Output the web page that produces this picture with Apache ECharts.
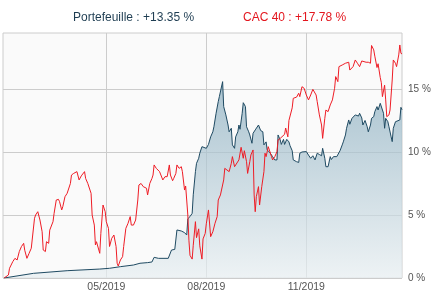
<!DOCTYPE html>
<html>
<head>
<meta charset="utf-8">
<script src="https://cdn.jsdelivr.net/npm/echarts@6/dist/echarts.min.js"></script>
<style>html,body{margin:0;padding:0;background:#fff;}#c{width:436px;height:298px;}</style>
</head>
<body>
<div id="c"></div>
<script>
var xTickDates = ['2019-05-01','2019-08-01','2019-11-01'];
var yTicks = [0, 5, 10, 15];
var seriesNames = ['Portefeuille', 'CAC 40'];
var seriesPerf = ['+13.35 %', '+17.78 %'];

var ptfDates = ['2019-01-27','2019-02-23','2019-03-26','2019-04-25','2019-05-04','2019-05-14','2019-05-26','2019-06-01','2019-06-08','2019-06-12','2019-06-14','2019-06-18','2019-06-27','2019-06-30','2019-07-03','2019-07-05','2019-07-09','2019-07-12','2019-07-14','2019-07-15','2019-07-17','2019-07-19','2019-07-20','2019-07-22','2019-07-23','2019-07-25','2019-07-26','2019-07-28','2019-07-29','2019-08-01','2019-08-03','2019-08-05','2019-08-07','2019-08-08','2019-08-10','2019-08-12','2019-08-13','2019-08-14','2019-08-16','2019-08-17','2019-08-19','2019-08-21','2019-08-22','2019-08-24','2019-08-25','2019-08-27','2019-08-28','2019-08-30','2019-08-31','2019-09-01','2019-09-03','2019-09-04','2019-09-06','2019-09-07','2019-09-09','2019-09-10','2019-09-12','2019-09-13','2019-09-15','2019-09-16','2019-09-18','2019-09-20','2019-09-22','2019-09-23','2019-09-25','2019-09-26','2019-09-28','2019-10-01','2019-10-03','2019-10-05','2019-10-06','2019-10-08','2019-10-09','2019-10-11','2019-10-12','2019-10-14','2019-10-16','2019-10-17','2019-10-19','2019-10-20','2019-10-23','2019-10-25','2019-10-26','2019-10-28','2019-10-29','2019-11-01','2019-11-03','2019-11-05','2019-11-07','2019-11-09','2019-11-11','2019-11-13','2019-11-15','2019-11-16','2019-11-18','2019-11-19','2019-11-21','2019-11-23','2019-11-24','2019-11-26','2019-11-27','2019-11-29','2019-11-30','2019-12-02','2019-12-04','2019-12-05','2019-12-07','2019-12-08','2019-12-10','2019-12-11','2019-12-13','2019-12-14','2019-12-16','2019-12-17','2019-12-19','2019-12-20','2019-12-22','2019-12-23','2019-12-25','2019-12-27','2019-12-28','2019-12-30','2019-12-31','2020-01-02','2020-01-03','2020-01-05','2020-01-06','2020-01-08','2020-01-09','2020-01-11','2020-01-12','2020-01-13','2020-01-15','2020-01-16','2020-01-18','2020-01-19','2020-01-20','2020-01-22','2020-01-23','2020-01-26','2020-01-27','2020-01-28'];
var ptfValues = [0,0.37,0.58,0.71,0.77,0.9,1.03,1.17,1.22,1.27,1.64,1.56,1.56,2.22,2.27,3.81,3.73,3.6,3.41,4.7,4.87,5.13,6.6,8.44,9.1,9.5,9.9,10.42,10.5,10.29,10.6,11.2,11.6,12.0,13.07,14.0,14.39,14.5,15.58,13.6,12.94,12.14,11.6,11.88,10.56,10.29,11.2,11.6,12.14,11.8,13.07,13.91,13.6,12.0,11.6,11.35,10.69,11.48,11.75,11.6,12.14,11.7,11.6,10.56,10.8,10.16,10.0,9.63,9.37,9.37,11.35,10.95,10.6,11.0,10.6,11.0,10.8,10.5,10.1,9.37,9.23,9.17,9.9,10.0,9.9,10.03,9.75,9.5,9.7,9.37,9.9,9.8,9.7,10.29,9.5,8.83,8.83,9.63,9.4,9.63,9.68,9.63,9.68,10.1,10.56,10.8,11.35,11.88,12.54,12.2,12.67,12.6,12.94,13.0,12.85,13.07,12.7,12.14,12.5,12.0,11.6,12.14,12.67,12.8,13.2,13.6,13.33,13.86,14.0,13.07,11.88,12.67,12.4,12.0,11.2,10.82,11.88,12.4,12.5,12.54,13.54,13.35];

var cacDates = ['2019-01-27','2019-01-31','2019-02-01','2019-02-04','2019-02-06','2019-02-08','2019-02-10','2019-02-12','2019-02-14','2019-02-15','2019-02-17','2019-02-19','2019-02-21','2019-02-24','2019-02-25','2019-02-27','2019-03-01','2019-03-03','2019-03-04','2019-03-06','2019-03-07','2019-03-09','2019-03-10','2019-03-13','2019-03-14','2019-03-16','2019-03-18','2019-03-19','2019-03-21','2019-03-22','2019-03-24','2019-03-26','2019-03-27','2019-03-29','2019-03-30','2019-04-01','2019-04-04','2019-04-06','2019-04-08','2019-04-11','2019-04-12','2019-04-14','2019-04-17','2019-04-18','2019-04-20','2019-04-21','2019-04-22','2019-04-25','2019-04-26','2019-04-28','2019-04-30','2019-05-01','2019-05-03','2019-05-04','2019-05-06','2019-05-08','2019-05-10','2019-05-11','2019-05-12','2019-05-14','2019-05-16','2019-05-17','2019-05-19','2019-05-21','2019-05-23','2019-05-24','2019-05-26','2019-05-28','2019-05-30','2019-05-31','2019-06-02','2019-06-04','2019-06-07','2019-06-08','2019-06-10','2019-06-12','2019-06-13','2019-06-14','2019-06-16','2019-06-19','2019-06-20','2019-06-22','2019-06-24','2019-06-26','2019-06-28','2019-06-29','2019-07-01','2019-07-02','2019-07-04','2019-07-05','2019-07-07','2019-07-09','2019-07-10','2019-07-12','2019-07-13','2019-07-15','2019-07-16','2019-07-17','2019-07-19','2019-07-20','2019-07-22','2019-07-23','2019-07-25','2019-07-26','2019-07-28','2019-07-29','2019-07-31','2019-08-01','2019-08-03','2019-08-05','2019-08-07','2019-08-09','2019-08-11','2019-08-12','2019-08-14','2019-08-15','2019-08-17','2019-08-18','2019-08-20','2019-08-22','2019-08-24','2019-08-25','2019-08-27','2019-08-28','2019-08-31','2019-09-02','2019-09-04','2019-09-05','2019-09-07','2019-09-08','2019-09-10','2019-09-11','2019-09-13','2019-09-14','2019-09-15','2019-09-16','2019-09-18','2019-09-19','2019-09-21','2019-09-23','2019-09-24','2019-09-25','2019-09-27','2019-09-28','2019-09-30','2019-10-01','2019-10-03','2019-10-05','2019-10-06','2019-10-08','2019-10-09','2019-10-12','2019-10-13','2019-10-15','2019-10-16','2019-10-19','2019-10-20','2019-10-23','2019-10-25','2019-10-26','2019-10-28','2019-10-30','2019-11-01','2019-11-03','2019-11-05','2019-11-07','2019-11-10','2019-11-11','2019-11-13','2019-11-15','2019-11-16','2019-11-18','2019-11-19','2019-11-21','2019-11-23','2019-11-25','2019-11-27','2019-11-28','2019-11-30','2019-12-01','2019-12-04','2019-12-07','2019-12-10','2019-12-11','2019-12-14','2019-12-16','2019-12-18','2019-12-20','2019-12-22','2019-12-23','2019-12-26','2019-12-28','2019-12-30','2019-12-31','2020-01-02','2020-01-03','2020-01-05','2020-01-06','2020-01-08','2020-01-09','2020-01-10','2020-01-12','2020-01-13','2020-01-14','2020-01-16','2020-01-17','2020-01-19','2020-01-20','2020-01-22','2020-01-23','2020-01-25','2020-01-26','2020-01-27','2020-01-28'];
var cacValues = [0,0.24,0.77,1.3,1.56,1.43,2.1,2.5,2.75,2.2,1.56,1.96,2.36,4.74,5.0,5.26,4.6,3.67,2.22,2.1,2.88,2.75,3.8,4.47,5.13,6.19,6.24,6.06,5.4,5.66,6.45,6.72,6.85,7.5,8.17,8.3,8.44,7.78,8.1,8.44,7.9,7.5,6.72,5.0,4.2,2.62,2.88,1.96,3.54,5.79,5.26,4.47,3.94,2.5,3.15,3.41,2.5,1.17,0.95,1.43,1.69,2.5,3.94,4.34,4.87,4.2,4.2,4.6,6.19,7.38,7.5,7.25,7.12,6.59,7.5,7.9,8.17,8.97,8.7,8.44,8.3,7.78,8.04,8.04,8.97,8.17,7.72,7.9,8.3,8.97,8.7,8.83,8.44,6.98,7.3,5.0,3.0,1.8,1.5,2.6,4.47,3.2,3.9,2.55,1.5,3.1,3.54,4.3,5.4,3.28,3.67,4.34,4.87,6.19,6.59,6.45,7.78,8.7,8.57,8.44,9.1,9.63,8.83,8.97,9.37,10.37,9.5,10.1,9.23,8.3,9.23,9.76,10.16,6.59,5.26,6.45,7.25,5.79,7.25,8.44,9.9,9.63,10.42,10.29,9.63,9.37,9.63,10.03,10.95,11.08,11.2,11.4,11.9,11.2,12.5,13.5,14.26,14.35,14.66,14.39,15.18,15.05,14.52,14.13,14.52,14.97,14.52,14.0,12.94,12.14,11.08,12.67,13.33,13.2,13.73,14.13,15.05,15.98,15.58,16.77,16.9,17.04,17.12,16.5,16.77,17.3,17.04,16.77,17.22,17.09,17.12,17.12,17.04,18.45,18.1,17.6,16.7,17.0,15.9,15.5,14.39,15.3,14.13,12.8,12.94,13.33,15.71,17.3,17.04,16.77,17.7,18.49,17.83,17.78];

function ts(s) { var p = s.split('-'); return new Date(+p[0], +p[1] - 1, +p[2]).getTime(); }
function zip(d, v) { return d.map(function (s, i) { return [ts(s), v[i]]; }); }
function pad(n) { return (n < 10 ? '0' : '') + n; }

var chart = echarts.init(document.getElementById('c'), null, {renderer: 'canvas'});
var FONT = '"Liberation Sans", Arial, sans-serif';
chart.setOption({
  animation: false,
  backgroundColor: '#ffffff',
  title: [
    {text: seriesNames[0] + ' : ' + seriesPerf[0], left: 73, top: 12, padding: 0,
     textStyle: {color: '#1e3d52', fontSize: 12, fontWeight: 'normal', fontFamily: FONT}},
    {text: seriesNames[1] + ' : ' + seriesPerf[1], left: 243, top: 12, padding: 0,
     textStyle: {color: '#e3161e', fontSize: 12, fontWeight: 'normal', fontFamily: FONT}}
  ],
  grid: {left: 3, right: 34, top: 33, bottom: 20, show: true, backgroundColor: '#fafafa', borderColor: '#cccccc', borderWidth: 1, containLabel: false},
  xAxis: {
    type: 'value',
    min: ts('2019-01-26'),
    max: ts('2020-01-28'),
    axisLine: {show: false},
    axisTick: {show: false, customValues: xTickDates.map(ts)},
    axisLabel: {
      customValues: xTickDates.map(ts),
      color: '#555', fontSize: 10.5, fontFamily: FONT, margin: 4,
      formatter: function (v) { var d = new Date(v); return pad(d.getMonth() + 1) + '/' + d.getFullYear(); }
    },
    splitLine: {show: true, lineStyle: {color: '#cccccc', width: 1}}
  },
  yAxis: {
    type: 'value',
    position: 'right',
    min: 0, max: 19.44, interval: 5,
    axisLine: {show: false},
    axisTick: {show: false, customValues: yTicks},
    axisLabel: {
      customValues: yTicks,
      color: '#555', fontSize: 10, fontFamily: FONT, margin: 6,
      formatter: function (v) { return v + ' %'; }
    },
    splitLine: {show: true, lineStyle: {color: '#cccccc', width: 1}}
  },
  series: [
    {
      name: seriesNames[0], type: 'line', data: zip(ptfDates, ptfValues),
      symbol: 'none', smooth: false,
      lineStyle: {color: '#1f4a62', width: 1},
      areaStyle: {color: new echarts.graphic.LinearGradient(0, 0, 0, 1, [
        {offset: 0, color: '#88acbe'}, {offset: 1, color: '#e8eff2'}
      ])},
      z: 2
    },
    {
      name: seriesNames[1], type: 'line', data: zip(cacDates, cacValues),
      symbol: 'none', smooth: false,
      lineStyle: {color: '#ee1c25', width: 1},
      z: 3
    }
  ]
});
</script>
</body>
</html>
